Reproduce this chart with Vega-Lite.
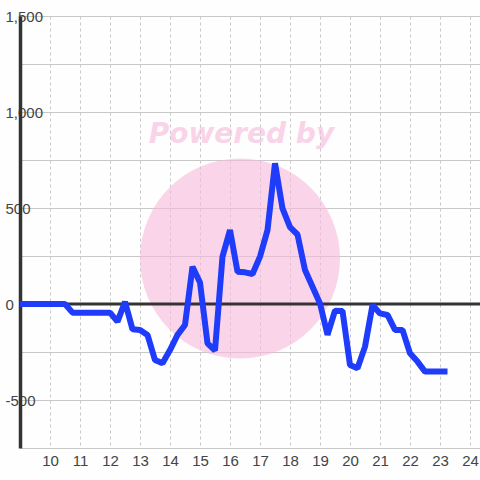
{
  "$schema": "https://vega.github.io/schema/vega-lite/v6.json",
  "width": 460,
  "height": 432,
  "autosize": {"type": "none"},
  "padding": {"left": 20, "top": 16, "right": 0, "bottom": 32},
  "background": "#fdfefd",
  "config": {"view": {"stroke": null}},
  "encoding": {
    "x": {
      "field": "hour", "type": "quantitative",
      "scale": {"domain": [9, 24.3333], "nice": false, "zero": false},
      "axis": {
        "title": null, "values": [10, 11, 12, 13, 14, 15, 16, 17, 18, 19, 20, 21, 22, 23, 24],
        "grid": true, "gridColor": "#c8c8c8", "gridDash": [3, 3], "gridWidth": 1,
        "domain": false, "ticks": false, "labelPadding": 5, "labelFlush": false,
        "labelFont": "Liberation Sans", "labelFontSize": 15, "labelColor": "#444444", "labelOverlap": false
      }
    },
    "y": {
      "field": "value", "type": "quantitative",
      "scale": {"domain": [-750, 1500], "nice": false},
      "axis": {
        "title": null, "values": [-750, -500, -250, 0, 250, 500, 750, 1000, 1250, 1500],
        "labelExpr": "datum.value % 500 != 0 || datum.value <= -750 ? '' : (datum.value < 0 ? '-' + format(-datum.value, ',') : format(datum.value, ','))",
        "grid": true, "gridColor": "#c8c8c8", "gridWidth": 1,
        "domain": true, "domainColor": "#333333", "domainWidth": 3.5, "ticks": false,
        "labelAlign": "left", "labelBaseline": "middle", "labelPadding": 15, "labelFlush": false,
        "labelFont": "Liberation Sans", "labelFontSize": 15, "labelColor": "#444444", "labelOverlap": false
      }
    }
  },
  "layer": [
    {
      "data": {"values": [{"hour": 16.333, "value": 237}]},
      "mark": {"type": "point", "shape": "circle", "filled": true, "size": 40000, "color": "#f8b9dc", "opacity": 0.6}
    },
    {
      "data": {"values": [{"hour": 16.38, "value": 838, "label": "Powered by"}]},
      "mark": {"type": "text", "font": "DejaVu Sans", "fontWeight": "bold", "fontStyle": "italic", "fontSize": 28, "align": "center", "baseline": "alphabetic", "color": "#f8b9dc", "opacity": 0.6},
      "encoding": {
        "text": {"field": "label"}
      }
    },
    {
      "data": {"values": [{"hour": 9, "value": 0}, {"hour": 24.3333, "value": 0}]},
      "mark": {"type": "line", "color": "#333333", "strokeWidth": 3}
    },
    {
      "data": {"values": [
        {"hour": 9.0, "value": 0}, {"hour": 9.25, "value": 0}, {"hour": 9.5, "value": 0}, {"hour": 9.75, "value": 0},
        {"hour": 10.0, "value": 0}, {"hour": 10.25, "value": 0}, {"hour": 10.5, "value": 0}, {"hour": 10.75, "value": -45},
        {"hour": 11.0, "value": -45}, {"hour": 11.25, "value": -45}, {"hour": 11.5, "value": -45}, {"hour": 11.75, "value": -45},
        {"hour": 12.0, "value": -45}, {"hour": 12.25, "value": -92}, {"hour": 12.5, "value": 12}, {"hour": 12.75, "value": -132},
        {"hour": 13.0, "value": -135}, {"hour": 13.25, "value": -161}, {"hour": 13.5, "value": -292}, {"hour": 13.75, "value": -309},
        {"hour": 14.0, "value": -240}, {"hour": 14.25, "value": -161}, {"hour": 14.5, "value": -109}, {"hour": 14.75, "value": 194},
        {"hour": 15.0, "value": 112}, {"hour": 15.25, "value": -205}, {"hour": 15.5, "value": -242}, {"hour": 15.75, "value": 247},
        {"hour": 16.0, "value": 385}, {"hour": 16.25, "value": 168}, {"hour": 16.5, "value": 165}, {"hour": 16.75, "value": 156},
        {"hour": 17.0, "value": 247}, {"hour": 17.25, "value": 385}, {"hour": 17.5, "value": 733}, {"hour": 17.75, "value": 498},
        {"hour": 18.0, "value": 400}, {"hour": 18.25, "value": 362}, {"hour": 18.5, "value": 177}, {"hour": 18.75, "value": 90},
        {"hour": 19.0, "value": 3}, {"hour": 19.25, "value": -161}, {"hour": 19.5, "value": -35}, {"hour": 19.75, "value": -36},
        {"hour": 20.0, "value": -318}, {"hour": 20.25, "value": -335}, {"hour": 20.5, "value": -222}, {"hour": 20.75, "value": -5},
        {"hour": 21.0, "value": -49}, {"hour": 21.25, "value": -57}, {"hour": 21.5, "value": -135}, {"hour": 21.75, "value": -135},
        {"hour": 22.0, "value": -257}, {"hour": 22.25, "value": -300}, {"hour": 22.5, "value": -352}, {"hour": 22.75, "value": -352},
        {"hour": 23.0, "value": -352}, {"hour": 23.25, "value": -352}
      ]},
      "mark": {"type": "line", "color": "#1e3cfa", "strokeWidth": 6, "strokeJoin": "bevel"}
    }
  ]
}
